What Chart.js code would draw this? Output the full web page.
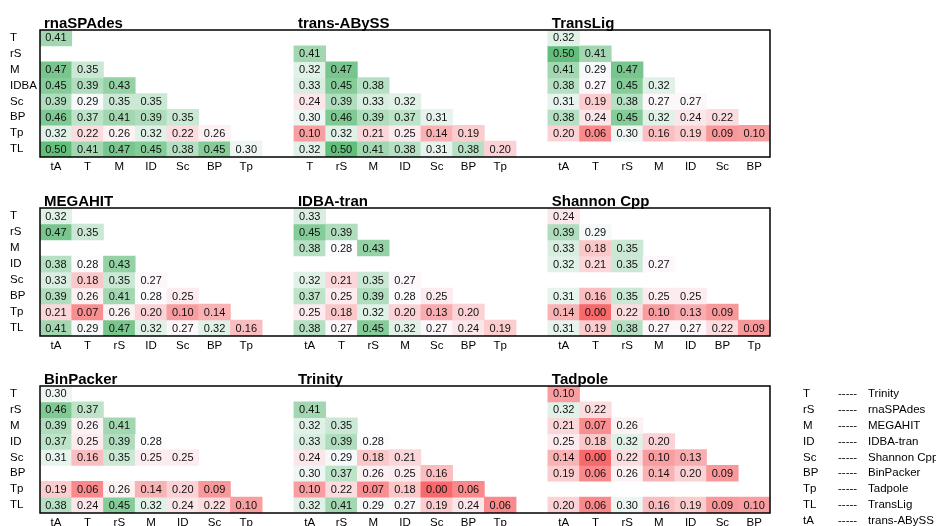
<!DOCTYPE html>
<html>
<head>
<meta charset="utf-8">
<script src="https://cdn.jsdelivr.net/npm/chart.js@4.4.1/dist/chart.umd.min.js"></script>
<style>
  html, body { margin: 0; padding: 0; background: #fff; width: 936px; height: 526px; overflow: hidden; }
  canvas { position: absolute; left: 0; }
</style>
</head>
<body>
<canvas id="rowTop" width="936" height="180" style="top:0px;width:936px;height:180px"></canvas>
<canvas id="rowMid" width="936" height="180" style="top:178px;width:936px;height:180px"></canvas>
<canvas id="rowBot" width="936" height="170" style="top:356px;width:936px;height:170px"></canvas>
<script>
// Row labels (assemblers compared), shared by every panel
const rowLabelsTop = ['T', 'rS', 'M', 'IDBA', 'Sc', 'BP', 'Tp', 'TL'];
const rowLabels = ['T', 'rS', 'M', 'ID', 'Sc', 'BP', 'Tp', 'TL'];

// Legend: abbreviation and full assembler name
const legendCodes = ['T', 'rS', 'M', 'ID', 'Sc', 'BP', 'Tp', 'TL', 'tA'];
const legendNames = ['Trinity', 'rnaSPAdes', 'MEGAHIT', 'IDBA-tran', 'Shannon Cpp', 'BinPacker', 'Tadpole', 'TransLig', 'trans-ABySS'];

// ---- Panel data: column labels and lower-triangle values per row ----
const rnaSPAdesCols = ['tA', 'T', 'M', 'ID', 'Sc', 'BP', 'Tp'];
const rnaSPAdesVals = [
  [0.41],
  [],
  [0.47, 0.35],
  [0.45, 0.39, 0.43],
  [0.39, 0.29, 0.35, 0.35],
  [0.46, 0.37, 0.41, 0.39, 0.35],
  [0.32, 0.22, 0.26, 0.32, 0.22, 0.26],
  [0.50, 0.41, 0.47, 0.45, 0.38, 0.45, 0.30]
];

const transAbyssCols = ['T', 'rS', 'M', 'ID', 'Sc', 'BP', 'Tp'];
const transAbyssVals = [
  [],
  [0.41],
  [0.32, 0.47],
  [0.33, 0.45, 0.38],
  [0.24, 0.39, 0.33, 0.32],
  [0.30, 0.46, 0.39, 0.37, 0.31],
  [0.10, 0.32, 0.21, 0.25, 0.14, 0.19],
  [0.32, 0.50, 0.41, 0.38, 0.31, 0.38, 0.20]
];

const transLigCols = ['tA', 'T', 'rS', 'M', 'ID', 'Sc', 'BP'];
const transLigVals = [
  [0.32],
  [0.50, 0.41],
  [0.41, 0.29, 0.47],
  [0.38, 0.27, 0.45, 0.32],
  [0.31, 0.19, 0.38, 0.27, 0.27],
  [0.38, 0.24, 0.45, 0.32, 0.24, 0.22],
  [0.20, 0.06, 0.30, 0.16, 0.19, 0.09, 0.10],
  []
];

const megahitCols = ['tA', 'T', 'rS', 'ID', 'Sc', 'BP', 'Tp'];
const megahitVals = [
  [0.32],
  [0.47, 0.35],
  [],
  [0.38, 0.28, 0.43],
  [0.33, 0.18, 0.35, 0.27],
  [0.39, 0.26, 0.41, 0.28, 0.25],
  [0.21, 0.07, 0.26, 0.20, 0.10, 0.14],
  [0.41, 0.29, 0.47, 0.32, 0.27, 0.32, 0.16]
];

const idbaTranCols = ['tA', 'T', 'rS', 'M', 'Sc', 'BP', 'Tp'];
const idbaTranVals = [
  [0.33],
  [0.45, 0.39],
  [0.38, 0.28, 0.43],
  [],
  [0.32, 0.21, 0.35, 0.27],
  [0.37, 0.25, 0.39, 0.28, 0.25],
  [0.25, 0.18, 0.32, 0.20, 0.13, 0.20],
  [0.38, 0.27, 0.45, 0.32, 0.27, 0.24, 0.19]
];

const shannonCols = ['tA', 'T', 'rS', 'M', 'ID', 'BP', 'Tp'];
const shannonVals = [
  [0.24],
  [0.39, 0.29],
  [0.33, 0.18, 0.35],
  [0.32, 0.21, 0.35, 0.27],
  [],
  [0.31, 0.16, 0.35, 0.25, 0.25],
  [0.14, 0.00, 0.22, 0.10, 0.13, 0.09],
  [0.31, 0.19, 0.38, 0.27, 0.27, 0.22, 0.09]
];

const binPackerCols = ['tA', 'T', 'rS', 'M', 'ID', 'Sc', 'Tp'];
const binPackerVals = [
  [0.30],
  [0.46, 0.37],
  [0.39, 0.26, 0.41],
  [0.37, 0.25, 0.39, 0.28],
  [0.31, 0.16, 0.35, 0.25, 0.25],
  [],
  [0.19, 0.06, 0.26, 0.14, 0.20, 0.09],
  [0.38, 0.24, 0.45, 0.32, 0.24, 0.22, 0.10]
];

const trinityCols = ['tA', 'rS', 'M', 'ID', 'Sc', 'BP', 'Tp'];
const trinityVals = [
  [],
  [0.41],
  [0.32, 0.35],
  [0.33, 0.39, 0.28],
  [0.24, 0.29, 0.18, 0.21],
  [0.30, 0.37, 0.26, 0.25, 0.16],
  [0.10, 0.22, 0.07, 0.18, 0.00, 0.06],
  [0.32, 0.41, 0.29, 0.27, 0.19, 0.24, 0.06]
];

const tadpoleCols = ['tA', 'T', 'rS', 'M', 'ID', 'Sc', 'BP'];
const tadpoleVals = [
  [0.10],
  [0.32, 0.22],
  [0.21, 0.07, 0.26],
  [0.25, 0.18, 0.32, 0.20],
  [0.14, 0.00, 0.22, 0.10, 0.13],
  [0.19, 0.06, 0.26, 0.14, 0.20, 0.09],
  [],
  [0.20, 0.06, 0.30, 0.16, 0.19, 0.09, 0.10]
];

const topPanels = [
  { title: 'rnaSPAdes', cols: rnaSPAdesCols, vals: rnaSPAdesVals },
  { title: 'trans-ABySS', cols: transAbyssCols, vals: transAbyssVals },
  { title: 'TransLig', cols: transLigCols, vals: transLigVals }
];
const midPanels = [
  { title: 'MEGAHIT', cols: megahitCols, vals: megahitVals },
  { title: 'IDBA-tran', cols: idbaTranCols, vals: idbaTranVals },
  { title: 'Shannon Cpp', cols: shannonCols, vals: shannonVals }
];
const botPanels = [
  { title: 'BinPacker', cols: binPackerCols, vals: binPackerVals },
  { title: 'Trinity', cols: trinityCols, vals: trinityVals },
  { title: 'Tadpole', cols: tadpoleCols, vals: tadpoleVals }
];

// ---- Three-colour scale (red - white - green), midpoint at the median ----
const allVals = [...topPanels, ...midPanels, ...botPanels].flatMap(p => p.vals.flat()).sort((a, b) => a - b);
const vMin = allVals[0];
const vMax = allVals[allVals.length - 1];
const vMid = allVals.length % 2 ? allVals[(allVals.length - 1) / 2]
  : (allVals[allVals.length / 2 - 1] + allVals[allVals.length / 2]) / 2;
const RED = [248, 105, 107], WHITE = [252, 252, 255], GREEN = [99, 190, 123];

function mix(a, b, t) {
  return 'rgb(' + a.map((c, i) => Math.round(c + (b[i] - c) * t)).join(',') + ')';
}
function cellColor(v) {
  if (v == null) return 'rgba(0,0,0,0)';
  if (v <= vMid) return mix(RED, WHITE, (v - vMin) / (vMid - vMin));
  return mix(WHITE, GREEN, (v - vMid) / (vMax - vMid));
}

const FONT = "'Liberation Sans', Arial, sans-serif";
Chart.defaults.font.family = FONT;
Chart.defaults.color = '#000';

// Plot-area frame
const framePlugin = {
  id: 'frame',
  afterDraw(chart) {
    const { ctx, chartArea: a } = chart;
    ctx.save();
    ctx.strokeStyle = '#000';
    ctx.lineWidth = 1.5;
    ctx.strokeRect(a.left, a.top, a.right - a.left, a.bottom - a.top);
    ctx.restore();
  }
};

// Value printed in the middle of each cell
const cellTextPlugin = {
  id: 'cellText',
  afterDatasetsDraw(chart) {
    const ctx = chart.ctx;
    ctx.save();
    ctx.font = '11px ' + FONT;
    ctx.fillStyle = '#111';
    ctx.textAlign = 'center';
    ctx.textBaseline = 'middle';
    chart.data.datasets.forEach((ds, di) => {
      chart.getDatasetMeta(di).data.forEach((bar, i) => {
        const v = ds.vals[i];
        if (v == null) return;
        const c = bar.getCenterPoint();
        ctx.fillText(v.toFixed(2), c.x, c.y + 0.5);
      });
    });
    ctx.restore();
  }
};

// Panel titles above each block of columns
const titlePlugin = {
  id: 'panelTitles',
  afterDraw(chart, args, opts) {
    const { ctx, chartArea: a } = chart;
    const xs = chart.scales.x;
    const w = xs.getPixelForValue(1) - xs.getPixelForValue(0);
    ctx.save();
    ctx.font = 'bold 15px ' + FONT;
    ctx.fillStyle = '#000';
    ctx.textAlign = 'left';
    ctx.textBaseline = 'alphabetic';
    opts.titles.forEach((t, pi) => {
      const x = xs.getPixelForValue(pi * 8) - w / 2 + 4;
      ctx.fillText(t, x, a.top - 2.5);
    });
    ctx.restore();
  }
};

// Abbreviation key at the right of the bottom row
const keyPlugin = {
  id: 'abbrevKey',
  afterDraw(chart, args, opts) {
    if (!opts.show) return;
    const { ctx } = chart;
    const ys = chart.scales.y;
    ctx.save();
    ctx.font = '11.5px ' + FONT;
    ctx.fillStyle = '#000';
    ctx.textAlign = 'left';
    ctx.textBaseline = 'middle';
    legendCodes.forEach((code, i) => {
      const y = ys.getPixelForValue(i + 0.5);
      ctx.fillText(code, 803, y);
      ctx.fillText('-----', 838, y);
      ctx.fillText(legendNames[i], 868, y);
    });
    ctx.restore();
  }
};

function buildRow(canvasId, panels, labelsY, boxH, showKey) {
  const canvas = document.getElementById(canvasId);
  const axisH = canvas.height - 30 - boxH;
  const labels = [];
  panels.forEach((p, i) => { if (i) labels.push(''); labels.push(...p.cols); });
  const datasets = labelsY.map((_, r) => {
    const data = labels.map(() => null);
    const vals = labels.map(() => null);
    panels.forEach((p, pi) => {
      p.vals[r].forEach((v, c) => {
        data[pi * 8 + c] = [r, r + 1];
        vals[pi * 8 + c] = v;
      });
    });
    return {
      data, vals,
      backgroundColor: ctx => cellColor(ctx.dataset.vals[ctx.dataIndex]),
      borderWidth: 0,
      barPercentage: 1,
      categoryPercentage: 1,
      grouped: false
    };
  });

  return new Chart(canvas, {
    type: 'bar',
    data: { labels, datasets },
    options: {
      responsive: false,
      animation: false,
      events: [],
      layout: { padding: { top: 30, left: 10, right: 166, bottom: 0 } },
      plugins: {
        legend: { display: false },
        tooltip: { enabled: false },
        panelTitles: { titles: panels.map(p => p.title) },
        abbrevKey: { show: showKey }
      },
      scales: {
        x: {
          type: 'category',
          grid: { display: false, drawTicks: false },
          border: { display: false },
          ticks: { autoSkip: false, maxRotation: 0, minRotation: 0, padding: 3, color: '#000', font: { size: 11.5 } },
          afterFit: s => { s.height = axisH; }
        },
        y: {
          type: 'linear',
          min: 0, max: labelsY.length, reverse: true,
          grid: { display: false, drawTicks: false },
          border: { display: false },
          afterBuildTicks: s => { s.ticks = labelsY.map((_, i) => ({ value: i + 0.5 })); },
          ticks: {
            crossAlign: 'far', color: '#000', font: { size: 11.5 },
            callback: (v, i) => labelsY[i]
          },
          afterFit: s => { s.width = 30; }
        }
      }
    },
    plugins: [framePlugin, cellTextPlugin, titlePlugin, keyPlugin]
  });
}

buildRow('rowTop', topPanels, rowLabelsTop, 127, false);
buildRow('rowMid', midPanels, rowLabels, 128, false);
buildRow('rowBot', botPanels, rowLabels, 127, true);
</script>
</body>
</html>
